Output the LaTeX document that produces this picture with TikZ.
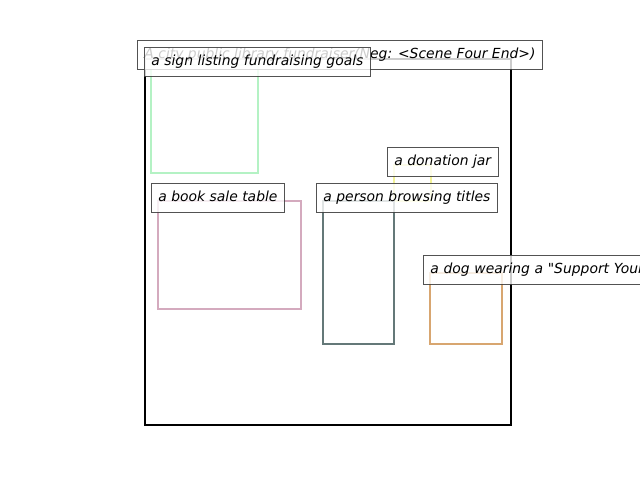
\documentclass[tikz,border=0pt]{standalone}
\usepackage{fontspec}
\setmainfont{DejaVu Sans}[Ligatures=TeXOff]
\definecolor{cgreen}{RGB}{180,242,196}
\definecolor{cpink}{RGB}{212,170,190}
\definecolor{cyellow}{RGB}{242,242,150}
\definecolor{cslate}{RGB}{100,120,120}
\definecolor{ctan}{RGB}{216,166,112}
\tikzset{
  region/.style={line width=2pt},
  lbl/.style={anchor=base west, fill=white, fill opacity=0.8, text opacity=1,
    draw=black!75, line width=0.9pt, draw opacity=0.9,
    text height=12.5pt, text depth=5.5pt, inner xsep=7pt, inner ysep=5.5pt,
    font=\fontsize{13.9}{16}\selectfont\itshape},
}
\begin{document}
\begin{tikzpicture}[x=1pt,y=-1pt]
\useasboundingbox (0,0) rectangle (640,480);
\clip (0,0) rectangle (640,480);
\fill[white] (0,0) rectangle (640,480);
% frame
\draw[line width=2pt] (144.5,59) rectangle (510.5,425);
% regions
\draw[region, cgreen] (151,65) rectangle (258,173);
\draw[region, cpink] (158,201) rectangle (301,309);
\draw[region, cyellow] (394,165) rectangle (431,201);
\draw[region, cslate] (323,201) rectangle (394,344);
\draw[region, ctan] (430,273) rectangle (502,344);
% title
\node[lbl] (title) at (137,58) {A city public library fundraiser(Neg: <Scene Four End>)};
% labels
\node[lbl] (sign) at (144,65) {a sign listing fundraising goals};
\node[lbl] (jar) at (387,165) {a donation jar};
\node[lbl] (book) at (151,201) {a book sale table};
\node[lbl] (person) at (316,201) {a person browsing titles};
\node[lbl, text width=240pt, align=left] (dog) at (423,273) {a dog wearing a "Support Your};
\end{tikzpicture}
\end{document}
